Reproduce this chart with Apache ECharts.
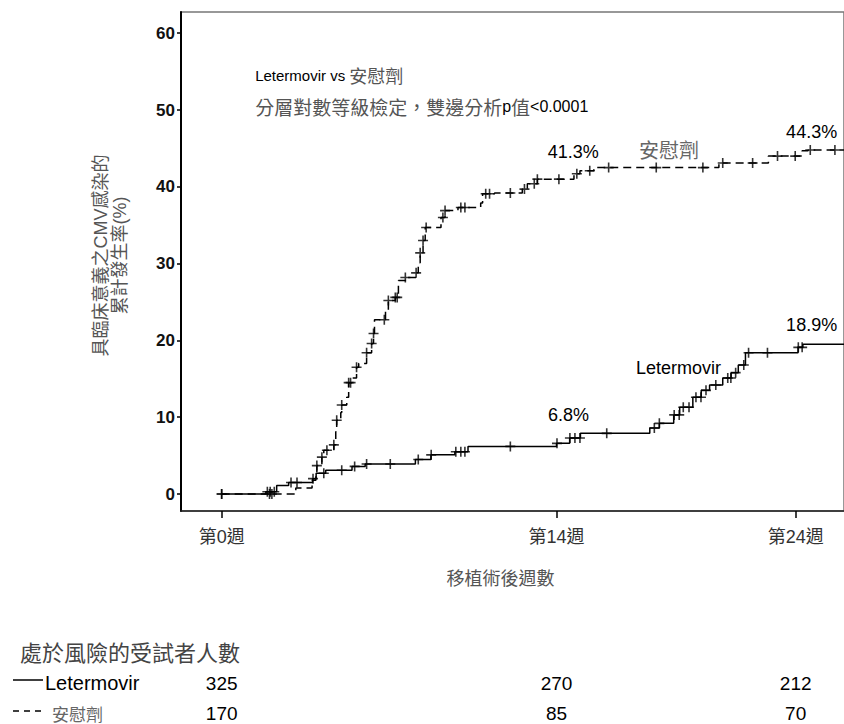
<!DOCTYPE html>
<html><head><meta charset="utf-8">
<script src="https://cdn.jsdelivr.net/npm/echarts@6/dist/echarts.min.js"></script>
<style>html,body{margin:0;padding:0;background:#fff}#c{width:844px;height:724px}</style>
</head><body><div id="c"></div>
<script>
// ---- data ----
const xTickWeeks = [0, 14, 24];
const xTickLabels = ['第0週', '第14週', '第24週'];
const yTicks = [0, 10, 20, 30, 40, 50, 60];

// Kaplan-Meier style cumulative incidence steps: [week, percent after event]
const letermovirCurve = [[0,0],[1.85,0.3],[2.3,1.1],[2.8,1.5],[3.8,2.0],[3.95,2.7],[4.35,3.1],[5.45,3.6],[6.0,3.9],[8.1,4.5],[8.75,5.1],[9.75,5.5],[10.3,6.2],[14.0,6.6],[14.55,7.3],[15.0,7.9],[17.9,8.6],[18.3,9.2],[18.9,10.3],[19.15,11.3],[19.7,12.6],[20.05,13.5],[20.4,14.2],[20.95,15.1],[21.3,15.8],[21.6,16.8],[21.9,18.4],[24.1,19.1],[24.3,19.5],[26.5,19.5]];
const placeboCurve = [[0,0],[3.1,0.8],[3.78,1.8],[3.94,2.7],[3.98,3.7],[4.19,4.8],[4.27,5.7],[4.69,6.4],[4.77,8.1],[4.81,9.6],[4.98,10.6],[5.02,11.6],[5.23,12.6],[5.31,14.5],[5.44,15.1],[5.64,16.5],[5.73,17.0],[6.06,18.4],[6.27,19.6],[6.35,20.9],[6.39,22.7],[6.85,23.9],[6.97,25.2],[7.26,25.6],[7.39,27.8],[7.68,28.2],[8.13,28.8],[8.22,30.1],[8.3,31.4],[8.42,33.0],[8.51,34.7],[9.17,36.0],[9.34,36.9],[9.88,37.3],[10.83,37.9],[10.91,39.1],[11.41,39.2],[12.57,39.7],[12.78,40.4],[13.2,41.0],[14.73,41.7],[14.98,42.1],[15.56,42.5],[20.79,43.1],[22.86,44.0],[24.27,44.7],[24.52,44.8],[26.5,44.8]];

// censoring times (weeks)
const letermovirCensor = [0,1.91,2.03,2.2,2.9,3.15,3.82,4.27,5.02,5.56,6.06,7.05,8.22,8.76,9.79,10.0,10.17,12.07,14.02,14.56,14.77,14.98,16.1,18.09,18.3,18.92,19.13,19.3,19.54,19.83,20.04,20.25,20.66,21.16,21.29,21.49,21.83,22.03,22.82,24.11,24.27];
const placeboCensor = [0,2.0,2.1,3.98,4.19,4.4,4.69,4.81,5.02,5.31,5.39,5.64,6.06,6.27,6.35,6.8,6.97,7.26,7.34,7.68,8.13,8.3,8.42,8.55,9.25,9.34,10.0,10.17,11.04,11.2,12.07,12.66,13.07,13.2,14.1,14.85,15.39,16.18,18.17,20.12,20.95,22.2,23.24,23.98,24.61,25.64];

const groupNames = ['Letermovir', '安慰劑'];
const riskLetermovir = [325, 270, 212];
const riskPlacebo = [170, 85, 70];

const annotations = [
  {text: 'Letermovir vs 安慰劑', week: 1.4, pct: 54.5, align: 'left', size: 15, cjk: 18},
  {text: '分層對數等級檢定，雙邊分析p值<0.0001', week: 1.4, pct: 50.4, align: 'left', size: 16, cjk: 19},
  {text: '41.3%', week: 14.7, pct: 44.5, align: 'center', size: 18, cjk: 21},
  {text: '安慰劑', week: 18.7, pct: 44.8, align: 'center', size: 18, cjk: 20, color: '#666'},
  {text: '44.3%', week: 23.6, pct: 47.2, align: 'left', size: 18, cjk: 21},
  {text: 'Letermovir', week: 19.1, pct: 16.4, align: 'center', size: 18, cjk: 21},
  {text: '6.8%', week: 14.5, pct: 10.3, align: 'center', size: 18, cjk: 21},
  {text: '18.9%', week: 23.6, pct: 22.0, align: 'left', size: 18, cjk: 21}
];

// ---- helpers ----
function stepValue(curve, t) {
  let v = curve[0][1];
  for (const p of curve) { if (p[0] <= t + 1e-9) v = p[1]; else break; }
  return v;
}
const FONT = "'Liberation Sans','Noto Sans CJK TC',sans-serif";
const CJK_FONT = "'Noto Sans CJK TC','Liberation Sans',sans-serif";
const plus = 'path://M4.2,0H5.8V4.2H10V5.8H5.8V10H4.2V5.8H0V4.2H4.2Z';
// split text into latin / CJK runs so CJK can be slightly larger, as in the scan
function richify(text) {
  const runs = text.match(/[\u3000-\u9fff\uff00-\uffef]+|[^\u3000-\u9fff\uff00-\uffef]+/g) || [];
  return runs.map(r => (/[\u3000-\u9fff\uff00-\uffef]/.test(r) ? '{c|' : '{l|') + r + '}').join('');
}

const chart = echarts.init(document.getElementById('c'), null, {renderer: 'svg'});
chart.setOption({
  backgroundColor: '#fff',
  animation: false,
  grid: {left: 181, top: 12, right: -5, bottom: 213, show: true, borderColor: '#777', borderWidth: 1.5},
  xAxis: {
    type: 'value', min: -1.70, max: 26.02,
    splitLine: {show: false},
    axisLine: {onZero: false, lineStyle: {color: '#222', width: 1.5}},
    axisTick: {customValues: xTickWeeks, length: 7, lineStyle: {color: '#000', width: 1.5}},
    axisLabel: {customValues: xTickWeeks, margin: 17, fontSize: 18, color: '#333', fontFamily: FONT,
      formatter: v => xTickLabels[xTickWeeks.indexOf(v)] || ''},
    name: '移植術後週數', nameLocation: 'middle', nameGap: 57,
    nameTextStyle: {fontSize: 18, color: '#555', fontFamily: CJK_FONT, padding: [0, 24, 0, 0]}
  },
  yAxis: {
    type: 'value', min: -2.21, max: 62.76,
    splitLine: {show: false},
    axisLine: {onZero: false, lineStyle: {color: '#000', width: 2}},
    axisTick: {customValues: yTicks, length: 4, lineStyle: {color: '#000', width: 1.5}},
    axisLabel: {customValues: yTicks, margin: 6, fontSize: 17, fontWeight: 'bold', color: '#111', fontFamily: FONT},
    name: '具臨床意義之CMV感染的\n累計發生率(%)', nameLocation: 'middle', nameGap: 52, nameRotate: 90,
    nameTextStyle: {fontSize: 18, lineHeight: 19, color: '#555', fontFamily: FONT, padding: [0, 0, 0, 12]}
  },
  series: [
    {type: 'line', name: groupNames[0], data: letermovirCurve, step: 'end', showSymbol: false,
      lineStyle: {color: '#000', width: 1.5}, z: 3},
    {type: 'line', name: groupNames[1], data: placeboCurve, step: 'end', showSymbol: false,
      lineStyle: {color: '#000', width: 1.5, type: [8, 5]}, z: 3},
    {type: 'scatter', data: letermovirCensor.map(t => [t, stepValue(letermovirCurve, t)]),
      symbol: plus, symbolSize: 10, itemStyle: {color: '#000'}, z: 4},
    {type: 'scatter', data: placeboCensor.map(t => [t, stepValue(placeboCurve, t)]),
      symbol: plus, symbolSize: 10, itemStyle: {color: '#000'}, z: 4}
  ]
});

// ---- text elements positioned through the axes ----
const g = [];
annotations.forEach(a => {
  const p = chart.convertToPixel({gridIndex: 0}, [a.week, a.pct]);
  const fill = a.color || '#000';
  g.push({type: 'text', x: p[0], y: p[1], z: 10,
    style: {text: richify(a.text), align: a.align, verticalAlign: 'middle',
      rich: {
        l: {fontSize: a.size, fontFamily: FONT, fill: fill, verticalAlign: 'middle'},
        c: {fontSize: a.cjk, fontFamily: CJK_FONT, fill: a.color || '#555', verticalAlign: 'middle'}
      }}});
});
// risk table
g.push({type: 'text', x: 20, y: 651, style: {text: '處於風險的受試者人數', fontSize: 22, fontFamily: CJK_FONT, fill: '#444', verticalAlign: 'middle'}});
g.push({type: 'line', shape: {x1: 13, y1: 680, x2: 43, y2: 680}, style: {stroke: '#000', lineWidth: 1.5}});
g.push({type: 'line', shape: {x1: 13, y1: 711, x2: 43, y2: 711}, style: {stroke: '#000', lineWidth: 1.5, lineDash: [6, 5]}});
g.push({type: 'text', x: 45, y: 683, style: {text: groupNames[0], fontSize: 20, fontFamily: FONT, fill: '#000', verticalAlign: 'middle'}});
g.push({type: 'text', x: 52, y: 713, style: {text: groupNames[1], fontSize: 17, fontFamily: CJK_FONT, fill: '#666', verticalAlign: 'middle'}});
xTickWeeks.forEach((w, i) => {
  const px = chart.convertToPixel({xAxisIndex: 0}, w);
  g.push({type: 'text', x: px, y: 683, style: {text: String(riskLetermovir[i]), fontSize: 19, fontFamily: FONT, fill: '#000', align: 'center', verticalAlign: 'middle'}});
  g.push({type: 'text', x: px, y: 713, style: {text: String(riskPlacebo[i]), fontSize: 19, fontFamily: FONT, fill: '#000', align: 'center', verticalAlign: 'middle'}});
});
chart.setOption({graphic: g});
</script>
</body></html>
